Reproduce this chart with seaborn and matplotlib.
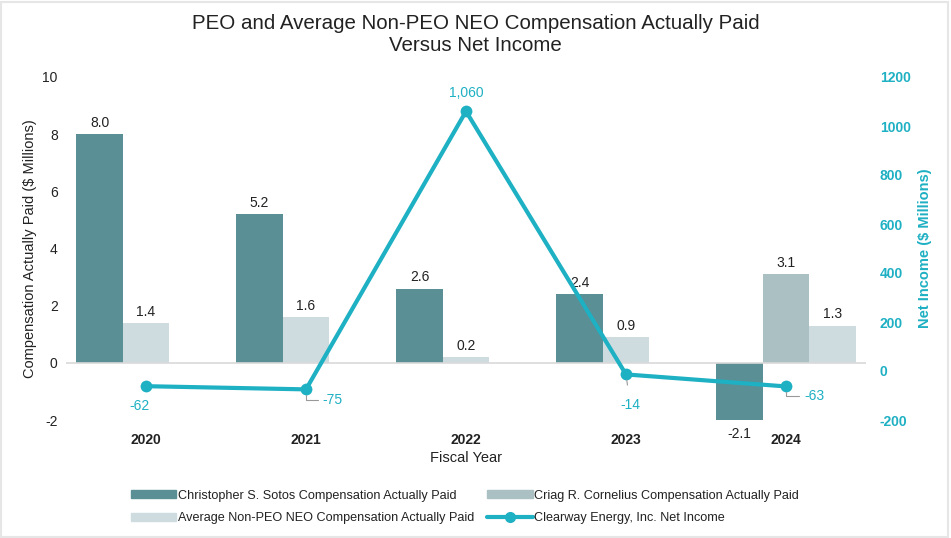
import numpy as np
import pandas as pd
import matplotlib
matplotlib.use("Agg")
import matplotlib.pyplot as plt
import seaborn as sns
from matplotlib.patches import Rectangle
from matplotlib.lines import Line2D
from matplotlib.patches import Patch

# ---- data ----
years = ["2020", "2021", "2022", "2023", "2024"]
sotos = [8.0, 5.2, 2.6, 2.4, -2.1]
cornelius = [None, None, None, None, 3.1]
avg_neo = [1.4, 1.6, 0.2, 0.9, 1.3]
net_income = [-62, -75, 1060, -14, -63]

series_names = ["Christopher S. Sotos Compensation Actually Paid",
                "Criag R. Cornelius Compensation Actually Paid",
                "Average Non-PEO NEO Compensation Actually Paid"]
line_name = "Clearway Energy, Inc. Net Income"
colors = {series_names[0]: "#5a8f95", series_names[1]: "#abc0c2", series_names[2]: "#cfdcdf"}
line_color = "#1eb0c3"

# ---- layout of bar slots (Sotos left, then next bars fill toward right) ----
BW = 0.29
rows = []
for i, y in enumerate(years):
    present = []
    for name, vals in zip(series_names, [sotos, cornelius, avg_neo]):
        if vals[i] is not None:
            present.append((name, vals[i]))
    for k, (name, v) in enumerate(present):
        rows.append({"pos": i + (k - 1) * BW, "value": v, "series": name, "year": y})
df = pd.DataFrame(rows)

sns.set_theme(style="white")
plt.rcParams["font.family"] = ["Liberation Sans", "DejaVu Sans"]

fig = plt.figure(figsize=(9.51, 5.38), dpi=100)
ax = fig.add_axes([66 / 951, 1 - 420 / 538, 800 / 951, 343 / 538])

sns.barplot(data=df, x="pos", y="value", hue="series", hue_order=series_names,
            palette=colors, native_scale=True, dodge=False, width=1.0,
            ax=ax, legend=False, saturation=1, edgecolor="none", linewidth=0)

# value labels on bars
for _, r in df.iterrows():
    if r["value"] >= 0:
        ax.text(r["pos"], r["value"] + 0.15, f"{r['value']:.1f}", ha="center", va="bottom",
                fontsize=10, color="#222222")
    else:
        ax.text(r["pos"], r["value"] - 0.15, f"{r['value']:.1f}", ha="center", va="top",
                fontsize=10, color="#222222")

ax.set_xlim(-0.5, 4.5)
ax.set_ylim(-2, 10)
ax.set_yticks(np.arange(-2, 11, 2))
ax.set_yticklabels([str(v) for v in range(-2, 11, 2)], fontsize=10, color="#222222")
ax.set_xticks(range(len(years)))
ax.set_xticklabels(years, fontsize=10, fontweight="bold", color="#222222")
ax.tick_params(axis="both", length=0, pad=6)
ax.tick_params(axis="x", pad=9)
ax.axhline(0, color="#d9d9d9", lw=1.2, zorder=1)
for s in ax.spines.values():
    s.set_visible(False)
ax.set_xlabel("Fiscal Year", fontsize=10.5, color="#222222", labelpad=3)
ax.set_ylabel("Compensation Actually Paid ($ Millions)", fontsize=10.5, color="#222222", labelpad=4)

# ---- secondary axis: net income ----
ax2 = ax.twinx()
line_df = pd.DataFrame({"x": range(len(years)), "ni": net_income})
sns.lineplot(data=line_df, x="x", y="ni", ax=ax2, color=line_color, lw=3,
             marker="o", markersize=8.5, markeredgewidth=0, legend=False)
ax2.set_ylim(-200, 1200)
ax2.set_yticks(np.arange(-200, 1201, 200))
ax2.set_yticklabels([str(v) for v in range(-200, 1201, 200)], fontsize=10,
                    fontweight="bold", color=line_color)
ax2.tick_params(axis="y", length=0, pad=10)
for s in ax2.spines.values():
    s.set_visible(False)
ax2.set_ylabel("Net Income ($ Millions)", fontsize=10.5, fontweight="bold",
               color=line_color, labelpad=5)
ax2.set_xlabel("")
ax2.set_xlim(-0.5, 4.5)

# line labels
lbl_kw = dict(fontsize=10, color=line_color)
ax2.annotate("-62", (0, net_income[0]), xytext=(-5, -14), textcoords="offset points",
             ha="center", va="center", **lbl_kw)
ax2.annotate("-75", (1, net_income[1]), xytext=(12, -8), textcoords="offset points",
             ha="left", va="center",
             arrowprops=dict(arrowstyle="-", color="#999999", lw=0.8,
                             connectionstyle="angle,angleA=0,angleB=90,rad=0",
                             shrinkA=1, shrinkB=4), **lbl_kw)
ax2.annotate("1,060", (2, net_income[2]), xytext=(0, 13), textcoords="offset points",
             ha="center", va="center", **lbl_kw)
ax2.annotate("-14", (3, net_income[3]), xytext=(3, -22), textcoords="offset points",
             ha="center", va="center",
             arrowprops=dict(arrowstyle="-", color="#999999", lw=0.8,
                             shrinkA=7, shrinkB=4), **lbl_kw)
ax2.annotate("-63", (4, net_income[4]), xytext=(13, -7), textcoords="offset points",
             ha="left", va="center",
             arrowprops=dict(arrowstyle="-", color="#999999", lw=0.8,
                             connectionstyle="angle,angleA=0,angleB=90,rad=0",
                             shrinkA=1, shrinkB=4), **lbl_kw)

# ---- title ----
fig.text(0.5, 1 - 34.5 / 538, "PEO and Average Non-PEO NEO Compensation Actually Paid\nVersus Net Income",
         ha="center", va="center", fontsize=14.8, color="#222222", linespacing=1.2)

# ---- legend ----
handles = [Patch(color=colors[series_names[0]]),
           Patch(color=colors[series_names[2]]),
           Patch(color=colors[series_names[1]]),
           Line2D([0], [0], color=line_color, lw=3, marker="o", markersize=7)]
labels = [series_names[0], series_names[2], series_names[1], line_name]
fig.legend(handles, labels, loc="center", bbox_to_anchor=(465 / 951, 1 - 507 / 538),
           ncol=2, frameon=False, fontsize=9.1, handlelength=3.6, handleheight=0.55,
           handletextpad=0.15, columnspacing=1.0, labelspacing=0.85, labelcolor="#222222")

# border
fig.patches.append(Rectangle((0.001, 0.002), 0.996, 0.995, transform=fig.transFigure,
                             fill=False, edgecolor="#e6e6e6", lw=1.5))

fig.savefig("out.png", dpi=100)
